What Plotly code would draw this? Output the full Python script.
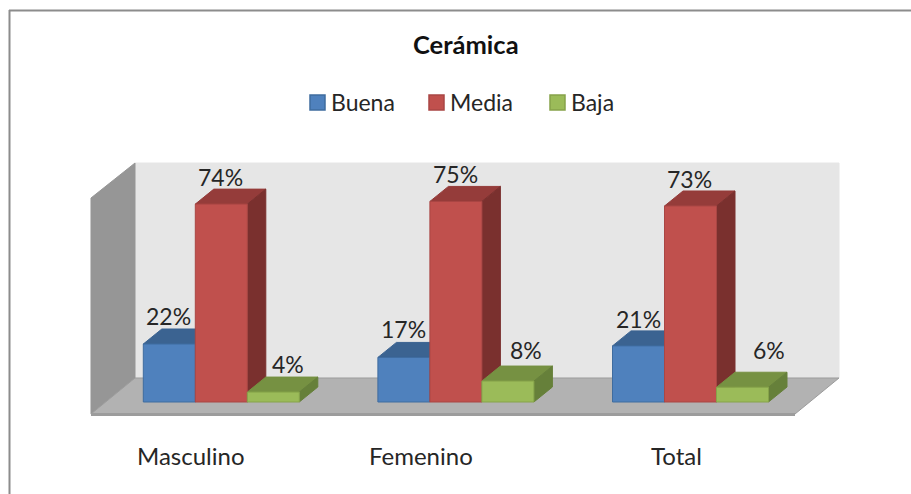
import plotly.graph_objects as go

W, H = 911, 494
title = "Cerámica"
categories = ["Masculino", "Femenino", "Total"]
series_names = ["Buena", "Media", "Baja"]
buena = [21.6, 16.6, 20.9]
media = [73.7, 74.7, 73.0]
baja = [3.7, 7.8, 5.5]
series_values = [buena, media, baja]

front = ["#4F81BD", "#C0504D", "#9BBB59"]
edge = ["#3F6C9F", "#A94644", "#86A34A"]
top_c = ["#3B6391", "#953C3A", "#769142"]
side_c = ["#36587F", "#7A302E", "#66803A"]

# scale: pixels per category / per percent
PXC, PXV = 234.6, 2.685
X0, Y0 = 221.3, 402.0
BW = 52.0 / PXC
DX, DY = 18.5 / PXC, 15 / PXV
px = lambda x: x / W
py = lambda y: 1 - y / H

fig = go.Figure()
for s, (vals, name) in enumerate(zip(series_values, series_names)):
    for i, v in enumerate(vals):
        xl = i + (s - 1.5) * BW
        xr = xl + BW
        fig.add_trace(go.Scatter(
            x=[xl, xl + DX, xr + DX, xr, xl], y=[v, v + DY, v + DY, v, v],
            mode="lines", fill="toself", fillcolor=top_c[s], line=dict(color=top_c[s], width=1),
            showlegend=False, hoverinfo="skip", zorder=s))
        fig.add_trace(go.Scatter(
            x=[xr, xr + DX, xr + DX, xr, xr], y=[0, DY, v + DY, v, 0],
            mode="lines", fill="toself", fillcolor=side_c[s], line=dict(color=side_c[s], width=1),
            showlegend=False, hoverinfo="skip", zorder=s))
for s, (vals, name) in enumerate(zip(series_values, series_names)):
    fig.add_trace(go.Bar(
        x=[i + (s - 1) * BW for i in range(len(vals))], y=vals, width=BW, name=name,
        marker=dict(color=front[s], line=dict(color=edge[s], width=1)),
        showlegend=False, zorder=5))

wall = [
    ("M135,163 L839,163 L839,378 L135,378 Z", "#E6E6E6", "#E6E6E6"),
    ("M91,198 L135,163 L135,378 L91,414 Z", "#969696", "#969696"),
    ("M91,414 L135,378 L839,378 L795,414 Z", "#B2B2B2", "#9C9C9C"),
]
def to_paper(path):
    out = []
    for tok in path.split():
        if "," in tok:
            cmd = tok[0] if tok[0].isalpha() else ""
            a, b = tok.lstrip("ML").split(",")
            out.append(f"{cmd}{px(float(a)):.5f},{py(float(b)):.5f}")
        else:
            out.append(tok)
    return " ".join(out)
shapes = [dict(type="path", path=to_paper(p), xref="paper", yref="paper", fillcolor=f,
               line=dict(color=l, width=1), layer="below") for p, f, l in wall]
shapes.append(dict(type="rect", xref="paper", yref="paper", x0=px(91), x1=px(795), y0=py(416), y1=py(413),
                   fillcolor="#9C9C9C", line=dict(width=0), layer="below"))
# frame
shapes += [
    dict(type="line", xref="paper", yref="paper", x0=px(9.5), x1=px(9.5), y0=py(10), y1=py(494),
         line=dict(color="#8C8C8C", width=2)),
    dict(type="line", xref="paper", yref="paper", x0=px(9), x1=px(911), y0=py(10.5), y1=py(10.5),
         line=dict(color="#8C8C8C", width=2)),
]

FONT = "Lato, Carlito, sans-serif"
TXT = "#262626"
ann = [dict(text=f"<b>{title}</b>", xref="paper", yref="paper", x=px(466), y=py(44), showarrow=False,
            xanchor="center", yanchor="middle", font=dict(family=FONT, size=25.5, color="#111111"))]

# legend
leg_sw = [310, 429, 550]
for x, name, f, e in zip(leg_sw, series_names, front, edge):
    shapes.append(dict(type="rect", xref="paper", yref="paper", x0=px(x), x1=px(x + 15), y0=py(110), y1=py(95),
                       fillcolor=f, line=dict(color=e, width=1.5)))
    ann.append(dict(text=name, xref="paper", yref="paper", x=px(x + 19), y=py(102), xanchor="left",
                    yanchor="middle", showarrow=False, font=dict(family=FONT, size=23, color=TXT)))

# data labels
xshift = [[-1, -1, 15], [0, 0, 18], [0, -1, 26]]
yshift = [[28, 27, 28], [28, 27, 31], [27, 27, 37]]
for i in range(3):
    for s in range(3):
        v = series_values[s][i]
        ann.append(dict(text=f"{round(v)}%", x=i + (s - 1) * BW, y=v, xref="x", yref="y", showarrow=False,
                        xanchor="center", yanchor="middle",
                        xshift=xshift[i][s], yshift=yshift[i][s],
                        font=dict(family=FONT, size=23, color=TXT)))
# category labels
cat_x = [191, 421, 676]
for x, c in zip(cat_x, categories):
    ann.append(dict(text=c, xref="paper", yref="paper", x=px(x), y=py(455), showarrow=False,
                    xanchor="center", yanchor="middle", font=dict(family=FONT, size=24, color=TXT)))

fig.update_layout(
    width=W, height=H, margin=dict(l=0, r=0, t=0, b=0), autosize=False,
    paper_bgcolor="white", plot_bgcolor="rgba(0,0,0,0)", barmode="overlay", showlegend=False,
    xaxis=dict(range=[-X0 / PXC, (W - X0) / PXC], visible=False, fixedrange=True),
    yaxis=dict(range=[(Y0 - H) / PXV, Y0 / PXV], visible=False, fixedrange=True),
    shapes=shapes, annotations=ann,
)
fig.write_html("out.html", config=dict(displayModeBar=False),
               post_script="document.body.style.margin='0';document.body.style.overflow='hidden';")
